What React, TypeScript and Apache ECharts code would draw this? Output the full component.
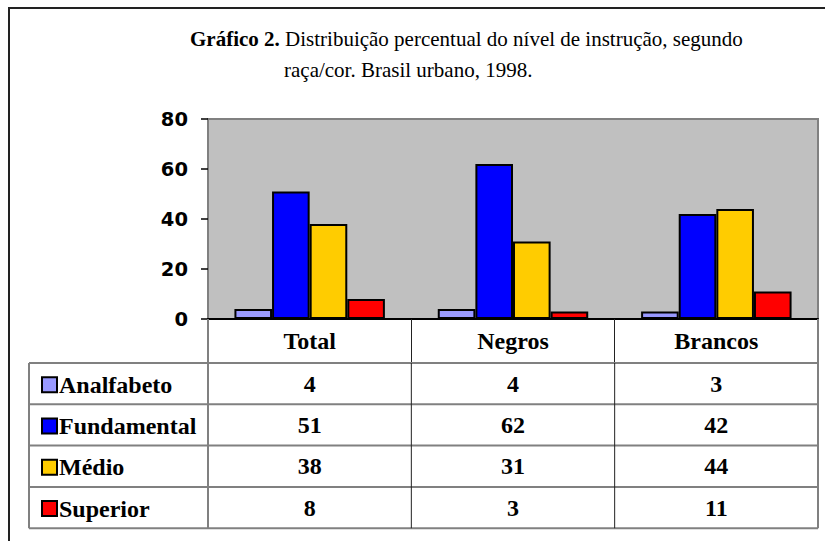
import React, { useEffect, useRef } from "react";
import * as echarts from "echarts";

const categories = ["Total", "Negros", "Brancos"];
const seriesNames = ["Analfabeto", "Fundamental", "Médio", "Superior"];
const analfabeto = [4, 4, 3];
const fundamental = [51, 62, 42];
const medio = [38, 31, 44];
const superior = [8, 3, 11];
const seriesValues = [analfabeto, fundamental, medio, superior];
const seriesColors = ["#9999FF", "#0000FF", "#FFCC00", "#FF0000"];
const yTicks = [0, 20, 40, 60, 80];

const GRID_L = 208;
const GRID_R = 818;
const GRID_T = 119;
const GRID_B = 319;
const TABLE_L = 29;
const HEADER_B = 363;
const ROW_H = 41.3;
const SERIF = "'Liberation Serif', 'Times New Roman', serif";

export default function App() {
  const ref = useRef<HTMLDivElement>(null);
  useEffect(() => {
    if (!ref.current) return;
    const chart = echarts.init(ref.current, undefined, { renderer: "svg" });
    const legends = seriesNames.map((name, i) => ({
      orient: "vertical",
      left: 36,
      top: HEADER_B + i * ROW_H + ROW_H / 2 - 16,
      itemWidth: 15,
      itemHeight: 15,
      icon: "rect",
      data: [name],
      itemStyle: { borderColor: "#000", borderWidth: 2 },
      textStyle: {
        fontFamily: SERIF,
        fontSize: 24,
        fontWeight: "bold",
        color: "#000",
        padding: [0, 0, 0, -3],
      },
    }));
    const option: any = {
      animation: false,
      backgroundColor: "#ffffff",
      title: [
        {
          left: 185,
          top: 23,
          text: "{b|Gráfico 2.} Distribuição percentual do nível de instrução, segundo",
          textStyle: {
            fontFamily: SERIF,
            fontSize: 21,
            fontWeight: "normal",
            color: "#000",
            rich: {
              b: { fontFamily: SERIF, fontSize: 21, fontWeight: "bold", color: "#000" },
            },
          },
        },
        {
          left: 279,
          top: 54,
          text: "raça/cor. Brasil urbano, 1998.",
          textStyle: { fontFamily: SERIF, fontSize: 21, fontWeight: "normal", color: "#000" },
        },
      ],
      legend: legends,
      grid: {
        left: GRID_L,
        right: 825 - GRID_R,
        top: GRID_T,
        bottom: 541 - GRID_B,
        show: true,
        backgroundColor: "#C0C0C0",
        borderColor: "#808080",
        borderWidth: 2,
      },
      xAxis: {
        type: "category",
        data: categories,
        axisLine: { show: true, lineStyle: { color: "#000", width: 2 } },
        axisTick: { show: true, length: 44, lineStyle: { color: "#222", width: 1 } },
        axisLabel: {
          margin: 10,
          fontFamily: SERIF,
          fontSize: 24,
          fontWeight: "bold",
          color: "#000",
        },
      },
      yAxis: {
        type: "value",
        min: 0,
        max: 80,
        interval: 20,
        splitLine: { show: false },
        axisLine: { show: false },
        axisTick: { show: true, length: 7, lineStyle: { color: "#000", width: 1.5 } },
        axisLabel: {
          margin: 20,
          fontFamily: "'DejaVu Sans', Verdana, sans-serif",
          fontSize: 19.5,
          fontWeight: "bold",
          color: "#000",
          formatter: (v: number) => (yTicks.includes(v) ? String(v) : ""),
        },
      },
      series: seriesNames.map((name, i) => ({
        name,
        type: "bar",
        data: seriesValues[i],
        barGap: "0%",
        barCategoryGap: "26%",
        itemStyle: { color: seriesColors[i], borderColor: "#000", borderWidth: 2 },
      })),
    };
    chart.setOption(option);

    const colX = categories.map((c) => chart.convertToPixel({ xAxisIndex: 0 }, c) as number);
    const rowTops = seriesNames.map((_, i) => HEADER_B + i * ROW_H);
    const tableB = HEADER_B + seriesNames.length * ROW_H;
    const elements: any[] = [];
    elements.push({
      type: "polyline",
      shape: { points: [[9, 541], [9, 8], [825, 8]] },
      style: { fill: "none", stroke: "#222", lineWidth: 2 },
      z: 10,
    });
    for (let i = 0; i <= seriesNames.length; i++) {
      const y = HEADER_B + i * ROW_H;
      elements.push({
        type: "line",
        shape: { x1: TABLE_L, y1: y, x2: GRID_R, y2: y },
        style: { stroke: "#808080", lineWidth: 2 },
        z: 10,
      });
    }
    elements.push({
      type: "line",
      shape: { x1: TABLE_L, y1: HEADER_B, x2: TABLE_L, y2: tableB },
      style: { stroke: "#808080", lineWidth: 2 },
      z: 10,
    });
    elements.push({
      type: "line",
      shape: { x1: GRID_L, y1: GRID_B, x2: GRID_L, y2: tableB },
      style: { stroke: "#808080", lineWidth: 2 },
      z: 10,
    });
    elements.push({
      type: "line",
      shape: { x1: GRID_R, y1: GRID_B, x2: GRID_R, y2: tableB },
      style: { stroke: "#808080", lineWidth: 2 },
      z: 10,
    });
    const bw = (GRID_R - GRID_L) / categories.length;
    for (let j = 1; j < categories.length; j++) {
      const x = GRID_L + j * bw;
      elements.push({
        type: "line",
        shape: { x1: x, y1: HEADER_B, x2: x, y2: tableB },
        style: { stroke: "#222", lineWidth: 1 },
        z: 10,
      });
    }
    seriesValues.forEach((vals, i) => {
      vals.forEach((v, j) => {
        elements.push({
          type: "text",
          x: colX[j],
          y: rowTops[i] + ROW_H / 2,
          style: {
            text: String(v),
            fontFamily: SERIF,
            fontSize: 24,
            fontWeight: "bold",
            fill: "#000",
            textAlign: "center",
            textVerticalAlign: "middle",
          },
          z: 11,
        });
      });
    });
    chart.setOption({ graphic: { elements } });
    return () => chart.dispose();
  }, []);
  return (
    <div
      ref={ref}
      style={{ position: "fixed", left: 0, top: 0, width: 825, height: 541 }}
    />
  );
}
